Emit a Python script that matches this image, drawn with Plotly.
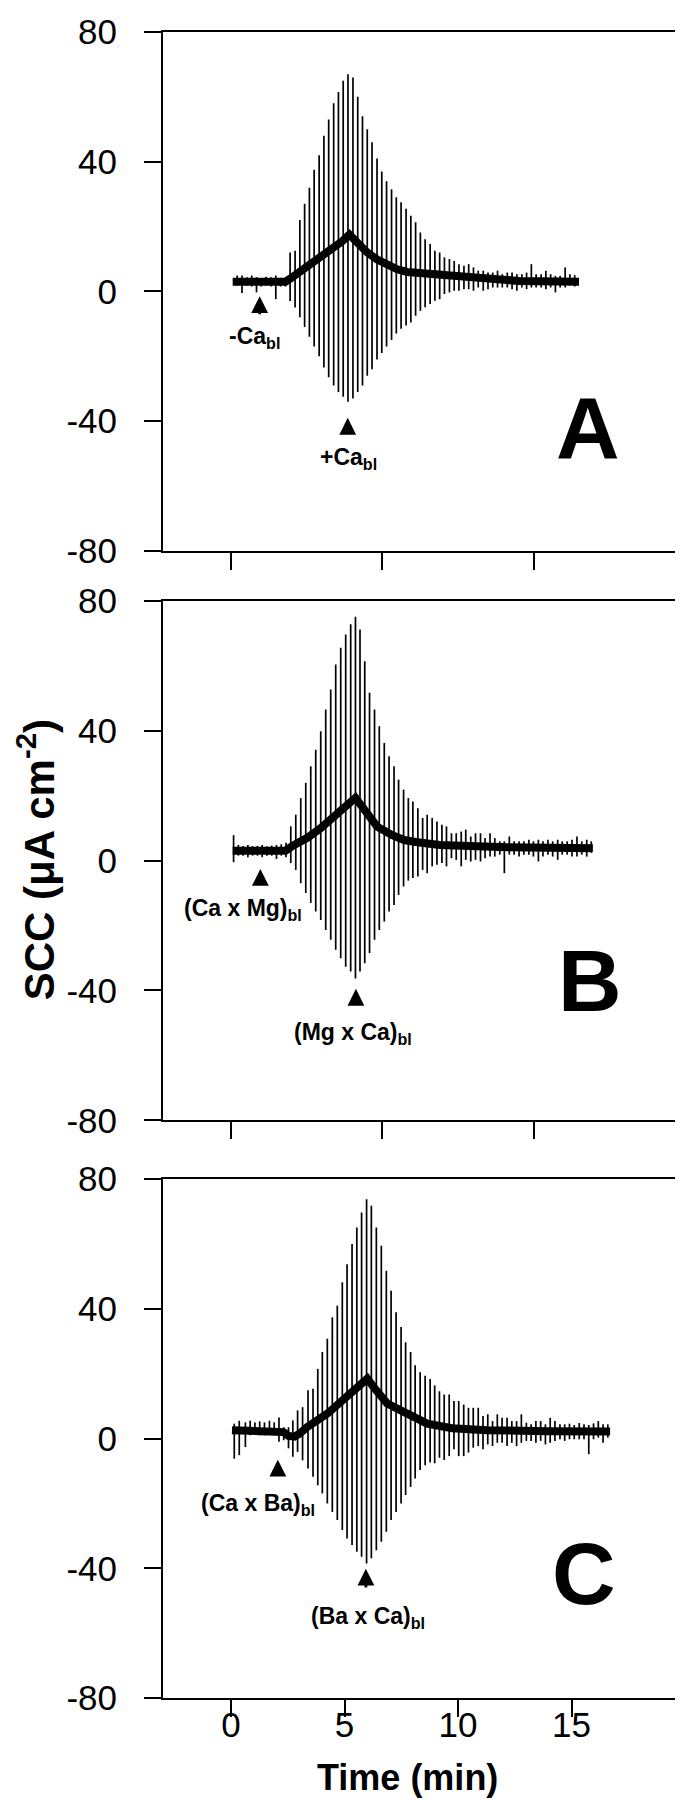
import plotly.graph_objects as go

# ---------------- data (time in min, current in uA cm^-2) ----------------
# Panel A : periodic pulse deflections (t, top, bottom)
A_spike_t = [0.27, 0.48, 0.70, 0.91, 1.12, 1.33, 1.54, 1.76, 1.97, 2.18, 2.39,
             2.60, 2.82, 3.03, 3.24, 3.45, 3.66, 3.88, 4.09, 4.30, 4.52,
             4.73, 4.94, 5.15, 5.37, 5.58, 5.79, 6.00, 6.21, 6.43, 6.64,
             6.85, 7.07, 7.28, 7.49, 7.71, 7.92, 8.13, 8.34, 8.55, 8.77,
             8.98, 9.19, 9.40, 9.62, 9.83, 10.04, 10.26, 10.47, 10.68, 10.89,
             11.11, 11.32, 11.53, 11.74, 11.95, 12.17, 12.38, 12.59, 12.81, 13.02,
             13.23, 13.44, 13.66, 13.87, 14.08, 14.29, 14.50, 14.72, 14.93, 15.14]
A_spike_top = [4.9, 4.9, 4.4, 4.9, 4.4, 4.0, 4.5, 4.4, 4.9, 4.2, 4.0,
               12, 12.5, 22, 27, 32, 37.5, 42, 48, 53, 58,
               61.5, 65, 67, 66, 60, 54, 50, 46, 41, 37,
               34, 31.5, 29, 27.5, 25.5, 23.3, 21.3, 18.2, 16.1, 14.6,
               12.5, 12.0, 10.5, 10.0, 9.4, 8.4, 7.9, 8.4, 7.4, 6.4,
               6.4, 5.8, 5.8, 6.4, 5.3, 5.8, 5.8, 5.3, 5.3, 5.8,
               8.4, 5.3, 5.3, 6.4, 5.3, 4.8, 4.8, 7.4, 5.3, 5.0]
A_spike_bot = [1.8, -0.5, 1.8, 1.5, -0.3, 1.5, 1.8, 1.5, -2.4, 1.5, 1.5,
               -3, -5, -8, -11, -14, -17, -20, -23.5, -26.5, -29,
               -31, -32.5, -34, -33, -31, -29, -26, -24, -21, -19,
               -17, -15, -13, -11.5, -10.5, -9.6, -7.5, -6.0, -4.9, -3.9,
               -2.9, -2.4, -0.8, -0.3, 0.2, 0.2, 0.7, 0.7, 0.2, 1.2,
               0.2, 0.7, 1.2, 1.2, 1.2, 1.2, 0.7, 0.2, 1.2, 0.7,
               1.2, 1.2, 1.2, 0.7, 1.2, -0.3, 1.2, 1.2, 1.8, 1.5]
# Panel A : mean current trace
A_base_t = [0.07, 2.40, 2.62, 2.92, 3.36, 3.80, 4.46, 4.90, 5.21, 5.48,
            6.00, 6.44, 6.88, 7.32, 7.76, 8.99, 10.49, 12.69, 15.33]
A_base_v = [3.0, 3.0, 4.0, 5.5, 7.5, 9.4, 13.0, 15.5, 17.5, 15.5,
            12.0, 9.8, 8.0, 6.8, 6.0, 5.3, 4.1, 3.2, 3.0]

# Panel B
B_spike_t = [0.11, 0.32, 0.53, 0.74, 0.95, 1.16, 1.37, 1.58, 1.79, 2.00, 2.21, 2.42,
             2.63, 2.85, 3.07, 3.29, 3.51, 3.73, 3.95, 4.17, 4.39, 4.61,
             4.83, 5.05, 5.27, 5.48, 5.68, 5.89, 6.10, 6.32, 6.53, 6.75,
             6.96, 7.18, 7.38, 7.60, 7.81, 8.01, 8.23, 8.44, 8.64, 8.86,
             9.07, 9.29, 9.49, 9.71, 9.92, 10.14, 10.34, 10.56, 10.77, 10.99,
             11.19, 11.41, 11.62, 11.84, 12.04, 12.26, 12.47, 12.69, 12.90, 13.12,
             13.32, 13.54, 13.74, 13.96, 14.17, 14.39, 14.59, 14.81, 15.02, 15.24,
             15.45, 15.67, 15.87]
B_spike_top = [7.8, 4.8, 4.5, 4.8, 4.4, 4.5, 4.8, 4.4, 4.6, 4.8, 5.0, 5.5,
               10.5, 14.1, 19.2, 23.9, 29.0, 34.1, 39.8, 46.5, 52.6, 60.3,
               65.5, 69.6, 72.7, 75.0, 71.1, 61.3, 51.6, 46.5, 41.3, 36.2,
               32.1, 29.0, 24.9, 21.8, 19.2, 18.2, 16.1, 13.1, 14.1, 13.1,
               12.0, 11.0, 10.5, 8.4, 8.4, 8.9, 9.5, 7.4, 8.4, 8.4,
               6.9, 8.4, 6.9, 5.9, 5.9, 7.4, 5.9, 5.9, 5.9, 6.4,
               5.9, 6.4, 5.9, 6.4, 5.9, 6.4, 5.9, 5.9, 6.4, 7.4,
               5.9, 6.4, 5.9]
B_spike_bot = [-0.5, 1.5, 1.5, 1.0, 1.5, 1.5, 1.0, 1.5, 1.5, 0.5, 1.5, 1.0,
               -0.8, -2.9, -7.0, -10.0, -13.1, -15.7, -18.3, -21.4, -24.4, -27.5,
               -30.1, -32.7, -34.2, -36.3, -34.2, -31.6, -28.5, -24.4, -21.4, -18.8,
               -15.7, -13.7, -10.6, -8.0, -6.2, -5.4, -4.9, -2.9, -3.9, -1.8,
               -1.3, -0.8, -1.8, 0.7, 0.2, -1.8, 0.2, -0.3, 0.2, -0.3,
               0.7, 1.2, 1.2, 1.8, -3.9, 1.8, 1.8, 1.2, 1.8, 1.8,
               1.2, -0.3, 1.2, 1.8, 1.2, 0.2, 1.8, 1.8, 1.2, 1.2,
               1.8, 1.2, 2.4]
B_base_t = [0.07, 2.40, 2.70, 3.36, 3.94, 4.68, 5.34, 5.48, 5.78, 6.44,
            7.10, 7.63, 8.20, 9.21, 12.16, 15.94]
B_base_v = [3.0, 3.0, 4.5, 7.0, 9.9, 14.5, 19.1, 19.3, 16.5, 10.4,
            7.8, 6.3, 5.6, 4.8, 4.1, 3.8]

# Panel C
C_spike_t = [0.14, 0.36, 0.63, 0.84, 1.05, 1.26, 1.47, 1.69, 1.90, 2.11, 2.32,
             2.53, 2.72, 2.93, 3.15, 3.39, 3.61, 3.82, 4.02, 4.24, 4.46,
             4.68, 4.90, 5.11, 5.33, 5.54, 5.75, 5.97, 6.18, 6.40, 6.62,
             6.84, 7.05, 7.27, 7.49, 7.69, 7.91, 8.11, 8.33, 8.55, 8.77,
             8.97, 9.18, 9.39, 9.61, 9.82, 10.03, 10.25, 10.46, 10.67, 10.89,
             11.10, 11.31, 11.52, 11.73, 11.94, 12.16, 12.37, 12.58, 12.79, 13.01,
             13.22, 13.43, 13.64, 13.85, 14.06, 14.27, 14.49, 14.70, 14.91, 15.12,
             15.34, 15.55, 15.76, 15.97, 16.18, 16.39, 16.60]
C_spike_top = [4.6, 5.5, 5.0, 5.5, 5.0, 5.3, 5.0, 5.5, 5.0, 6.5, 3.5,
               3.5, 5.6, 8.7, 9.7, 14.9, 15.4, 21.5, 26.7, 30.8, 37.4,
               41.0, 48.2, 53.8, 60.0, 65.1, 69.7, 73.8, 71.8, 65.1, 59.5,
               51.8, 45.6, 39.0, 34.4, 29.7, 26.7, 22.6, 20.5, 19.4, 18.4,
               16.4, 14.6, 13.6, 13.6, 11.6, 11.6, 10.5, 9.5, 9.5, 9.5,
               7.0, 7.5, 5.4, 7.5, 6.4, 6.4, 5.4, 5.4, 7.5, 4.9,
               4.4, 5.4, 5.4, 4.4, 6.4, 5.4, 4.4, 4.4, 4.6, 4.2,
               4.8, 4.4, 4.2, 4.7, 5.4, 4.4, 4.4]
C_spike_bot = [-6.2, -5.1, -2.6, 1.0, 1.5, 1.0, 1.0, 1.5, 1.0, -1.0, -0.5,
               -3.0, -5.6, -4.1, -6.7, -9.2, -11.8, -14.4, -16.9, -20.0, -22.6,
               -25.1, -28.2, -30.8, -32.8, -34.9, -36.4, -38.5, -36.9, -34.4, -31.8,
               -28.7, -25.1, -22.6, -20.0, -17.4, -14.9, -12.3, -9.7, -8.2, -7.4,
               -7.6, -5.9, -6.6, -5.4, -3.3, -5.4, -5.4, -4.3, -2.8, -2.3,
               -3.3, -1.8, -2.3, -1.3, -1.3, -2.3, -1.3, -2.3, -1.3, -0.7,
               -0.7, -1.3, -0.7, -1.8, -1.3, -0.7, -0.2, -0.7, -0.2, -0.2,
               -0.2, -0.2, -4.8, -0.2, 0.3, -1.3, 0.3]
C_base_t = [0.04, 2.05, 2.31, 2.53, 2.79, 3.01, 3.36, 4.24, 5.12, 5.78,
            6.00, 6.27, 6.88, 7.76, 8.64, 9.74, 11.28, 13.92, 16.70]
C_base_v = [2.6, 2.6, 2.0, 0.8, 0.6, 1.5, 3.6, 7.7, 12.8, 17.0,
            18.5, 16.0, 10.8, 7.7, 4.6, 3.2, 2.6, 2.3, 2.2]

# Solution-change arrows (t, tip, tail) and their labels (text, t, y)
arrows = {
    "A": [(1.26, -1.5, -7.5), (5.14, -39.0, -44.5)],
    "B": [(1.29, -2.6, -7.5), (5.50, -39.5, -45.0)],
    "C": [(2.06, -6.5, -12.0), (5.94, -40.1, -46.4)],
}
labels = {
    "A": [("-Ca<sub>bl</sub>", 1.02, -14.2), ("+Ca<sub>bl</sub>", 5.16, -51.5)],
    "B": [("(Ca x Mg)<sub>bl</sub>", 0.51, -15.2), ("(Mg x Ca)<sub>bl</sub>", 5.39, -53.4)],
    "C": [("(Ca x Ba)<sub>bl</sub>", 1.20, -20.4), ("(Ba x Ca)<sub>bl</sub>", 6.05, -55.2)],
}
panel_letters = {"A": (15.71, -42.1), "B": (15.81, -37.0), "C": (15.57, -41.7)}

y_ticks = [-80, -40, 0, 40, 80]
y_ticktext = ["-80", "-40", "0", "40", "80"]
x_ticks_top = [0, 20 / 3, 40 / 3, 20]
x_ticks_bottom = [0, 5, 10, 15, 20]
x_ticktext_bottom = ["0", "5", "10", "15", ""]

# ---------------- figure ----------------
FONT = "Liberation Sans, Arial, Helvetica, sans-serif"
panels = [
    ("A", "x", "y", A_spike_t, A_spike_top, A_spike_bot, A_base_t, A_base_v),
    ("B", "x2", "y2", B_spike_t, B_spike_top, B_spike_bot, B_base_t, B_base_v),
    ("C", "x3", "y3", C_spike_t, C_spike_top, C_spike_bot, C_base_t, C_base_v),
]

fig = go.Figure()
annotations = []
for name, xa, ya, st, stop, sbot, bt, bv in panels:
    sx, sy = [], []
    for t, top, bot in zip(st, stop, sbot):
        sx += [t, t, None]
        sy += [bot, top, None]
    fig.add_trace(go.Scatter(x=sx, y=sy, mode="lines", xaxis=xa, yaxis=ya,
                             line=dict(color="black", width=1.7),
                             showlegend=False, hoverinfo="skip"))
    fig.add_trace(go.Scatter(x=bt, y=bv, mode="lines", xaxis=xa, yaxis=ya,
                             line=dict(color="black", width=8),
                             showlegend=False, hoverinfo="skip"))
    for t, tip, tail in arrows[name]:
        annotations.append(dict(x=t, y=tip, ax=t, ay=tail, xref=xa, yref=ya,
                                axref=xa, ayref=ya, text="", showarrow=True,
                                arrowhead=2, arrowsize=1.2, arrowwidth=2.8,
                                arrowcolor="black"))
    for txt, t, yv in labels[name]:
        annotations.append(dict(x=t, y=yv, xref=xa, yref=ya, text="<b>" + txt + "</b>",
                                xanchor="center", yanchor="middle", showarrow=False,
                                font=dict(family=FONT, size=23, color="black")))
    lx, ly = panel_letters[name]
    annotations.append(dict(x=lx, y=ly, xref=xa, yref=ya, text="<b>" + name + "</b>",
                            xanchor="center", yanchor="middle", showarrow=False,
                            font=dict(family=FONT, size=88, color="black")))

annotations.append(dict(x=-0.2428, y=0.503, xref="paper", yref="paper",
                        text="<b>SCC (μA cm<sup>-2</sup>)</b>", textangle=-90,
                        xanchor="center", yanchor="middle", showarrow=False,
                        font=dict(family=FONT, size=42, color="black")))
annotations.append(dict(x=0.4685, y=-0.0479, xref="paper", yref="paper",
                        text="<b>Time (min)</b>", xanchor="center", yanchor="middle",
                        showarrow=False, font=dict(family=FONT, size=36, color="black")))

axis_common = dict(showline=True, mirror=True, linecolor="black", linewidth=2,
                   ticks="outside", ticklen=17, tickwidth=2, tickcolor="black",
                   showgrid=False, zeroline=False)
domains = {"y": [0.6886, 1.0], "y2": [0.3467, 0.6587], "y3": [0.0, 0.3114]}

layout = dict(width=683, height=1800, margin=dict(l=155, r=4, t=20, b=110),
              paper_bgcolor="white", plot_bgcolor="white",
              font=dict(family=FONT, color="black"), annotations=annotations)
for i, (xa, ya) in enumerate([("x", "y"), ("x2", "y2"), ("x3", "y3")]):
    xk = "xaxis" if i == 0 else f"xaxis{i + 1}"
    yk = "yaxis" if i == 0 else f"yaxis{i + 1}"
    xd = dict(axis_common, range=[-3, 20], anchor=ya, domain=[0, 1])
    if i < 2:
        xd.update(tickvals=x_ticks_top, showticklabels=False)
    else:
        xd.update(tickvals=x_ticks_bottom, ticktext=x_ticktext_bottom,
                  tickfont=dict(family=FONT, size=35, color="black"),
                  ticklabelstandoff=-22)
    yd = dict(axis_common, range=[-80, 80], anchor=xa, domain=domains[ya],
              tickvals=y_ticks, ticktext=y_ticktext,
              tickfont=dict(family=FONT, size=35, color="black"),
              ticklabelstandoff=20)
    layout[xk] = xd
    layout[yk] = yd

fig.update_layout(**layout)
fig.write_html("out.html")
